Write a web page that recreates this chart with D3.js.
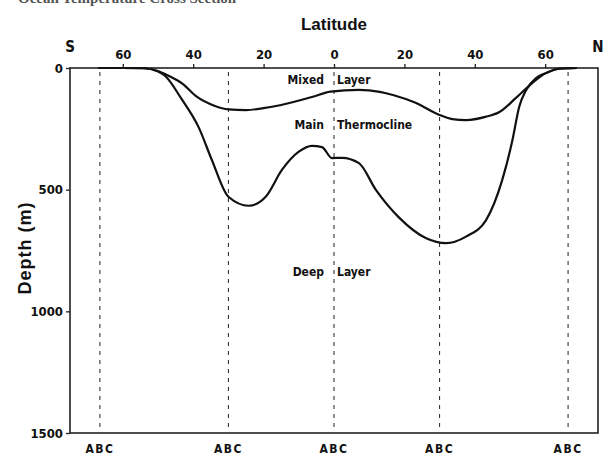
<!DOCTYPE html>
<meta charset="utf-8">
<style>
body { margin: 0; background: #fff; }
.lab { font-family: "Liberation Sans Narrow", "DejaVu Sans Condensed", "Liberation Sans", Arial, sans-serif; font-weight: bold; fill: #111; }
.frame { fill: none; stroke: #222; stroke-width: 1.6; }
.layer { fill: none; stroke: #111; stroke-width: 2.2; stroke-linejoin: round; }
.guide { stroke: #222; stroke-width: 1; stroke-dasharray: 4,5; }
</style>
<svg width="604" height="455"></svg>
<script src="https://d3js.org/d3.v7.min.js"></script>
<script>

// latitude ticks (S negative), depth ticks
var latTicks = [-60, -40, -20, 0, 20, 40, 60]
var depthTicks = [0, 500, 1000, 1500]
var guideLats = [-66.5, -30, 0, 30, 66.5]

// base of mixed layer (lat, depth m)
var mixedBase = [[-67,0],[-60,0],[-54,1],[-50,12],[-47,32],[-43,65],[-39,118],[-34,155],[-30,170],
  [-25,173],[-20,165],[-15,152],[-6,118],[-1,97],[7,90],[13,98],[17,112],[23,142],[30,193],
  [33.6,210],[37.5,214],[43,201],[47,181],[51.7,123],[56.3,62],[60.2,21],[64,3],[69,0]]

// base of main thermocline
var thermoBase = [[-67,0],[-60,0],[-54,1],[-50,14],[-47.8,35],[-43.5,123],[-38.4,245],[-34.7,378],
  [-30,529],[-24.2,566],[-19.4,529],[-14.8,419],[-10,344],[-6.3,320],[-3.4,325],[-0.6,370],
  [2.3,369],[7.1,391],[11.9,501],[18.5,615],[26.2,700],[31.8,720],[37.5,693],[43.2,625],
  [47.8,460],[50.7,296],[52.6,160],[54.6,90],[57.4,41],[60.2,21],[64,3],[69,0]]

var zoneLabels = [
  {left: "Mixed", right: "Layer", depth: 49},
  {left: "Main", right: "Thermocline", depth: 234},
  {left: "Deep", right: "Layer", depth: 838}
]

var svg = d3.select("svg")

var x = d3.scaleLinear().domain([-75, 75]).range([70, 598])
var y = d3.scaleLinear().domain([0, 1500]).range([68, 433])

// heading, mostly above the top edge as in the scan
svg.append("text")
  .attr("x", 18).attr("y", 3)
  .style("font-family", "Liberation Serif, Times New Roman, serif")
  .style("font-weight", "bold").style("font-size", "15px").style("fill", "#555")
  .text("Ocean Temperature Cross Section")

svg.append("text")
  .attr("class", "lab")
  .attr("x", x(0)).attr("y", 30)
  .attr("text-anchor", "middle")
  .style("font-family", "Liberation Sans, Arial, sans-serif")
  .style("font-size", "17px")
  .text("Latitude")

svg.append("text")
  .attr("class", "lab")
  .attr("transform", "translate(31,248) rotate(-90)")
  .attr("text-anchor", "middle")
  .style("font-family", "Liberation Sans, Arial, sans-serif")
  .style("font-size", "18px")
  .style("letter-spacing", "1px")
  .text("Depth (m)")

// guide lines
svg.selectAll(".guide").data(guideLats).enter().append("line")
  .attr("class", "guide")
  .attr("x1", d => x(d)).attr("x2", d => x(d))
  .attr("y1", y(0) + 4).attr("y2", y(1500) - 2)

// frame
svg.append("rect").attr("class", "frame")
  .attr("x", x(-75)).attr("y", y(0))
  .attr("width", x(75) - x(-75)).attr("height", y(1500) - y(0))

var topAxis = d3.axisTop(x).tickValues(latTicks).tickSize(4).tickFormat(d => Math.abs(d))
var gx = svg.append("g").attr("transform", `translate(0,${y(0)})`).call(topAxis)
gx.select(".domain").remove()
gx.selectAll("line").attr("stroke", "#222").attr("stroke-width", 1.3)
gx.selectAll("text").attr("class", "lab").style("font-size", "13px").attr("dy", "-2px")

var leftAxis = d3.axisLeft(y).tickValues(depthTicks).tickSize(4).tickFormat(d3.format("d"))
var gy = svg.append("g").attr("transform", `translate(${x(-75)},0)`).call(leftAxis)
gy.select(".domain").remove()
gy.selectAll("line").attr("stroke", "#222").attr("stroke-width", 1.3)
gy.selectAll("text").attr("class", "lab").style("font-size", "13px").attr("x", -7)

svg.append("text").attr("class", "lab")
  .attr("x", x(-75)).attr("y", 52).attr("text-anchor", "middle")
  .style("font-size", "15px").text("S")
svg.append("text").attr("class", "lab")
  .attr("x", x(75)).attr("y", 52).attr("text-anchor", "middle")
  .style("font-size", "15px").text("N")

var line = d3.line()
  .x(d => x(d[0])).y(d => y(d[1]))
  .curve(d3.curveMonotoneX)

svg.selectAll(".layer").data([mixedBase, thermoBase]).enter().append("path")
  .attr("class", "layer")
  .attr("d", line)

// zone labels split by the equator guide
zoneLabels.forEach(function(z) {
  svg.append("text").attr("class", "lab")
    .attr("x", x(0) - 10).attr("y", y(z.depth)).attr("dy", "0.35em")
    .attr("text-anchor", "end").style("font-size", "12px").text(z.left)
  svg.append("text").attr("class", "lab")
    .attr("x", x(0) + 3).attr("y", y(z.depth)).attr("dy", "0.35em")
    .attr("text-anchor", "start").style("font-size", "12px").text(z.right)
})

// A B C markers under each guide
svg.selectAll(".abc").data(guideLats).enter().append("text")
  .attr("class", "lab abc")
  .attr("x", d => x(d)).attr("y", 453)
  .attr("text-anchor", "middle")
  .style("font-size", "12px")
  .style("letter-spacing", "1.5px")
  .text("ABC")

</script>
